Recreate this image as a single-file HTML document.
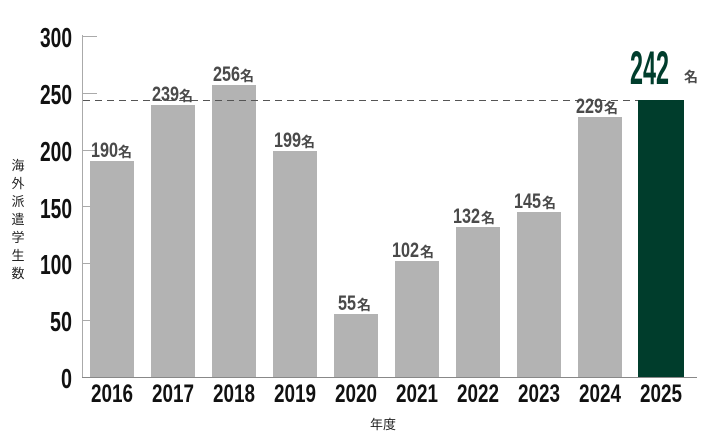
<!DOCTYPE html>
<html><head><meta charset="utf-8"><style>
html,body{margin:0;padding:0;background:#fff;}
svg{display:block;}
.t{font-family:"Liberation Sans","Noto Sans CJK JP",sans-serif;font-weight:bold;}
</style></head><body>
<svg width="710" height="439" viewBox="0 0 710 439" xmlns="http://www.w3.org/2000/svg">
<g stroke="#aaa" stroke-width="1">
<line x1="82.5" y1="35" x2="82.5" y2="378"/>
<line x1="82" y1="36.5" x2="97" y2="36.5"/>
<line x1="82" y1="93.5" x2="97" y2="93.5"/>
<line x1="82" y1="150.5" x2="97" y2="150.5"/>
<line x1="82" y1="206.5" x2="97" y2="206.5"/>
<line x1="82" y1="263.5" x2="97" y2="263.5"/>
<line x1="82" y1="320.5" x2="97" y2="320.5"/>
</g>
<g fill="#b3b3b3">
<rect x="90" y="161" width="44" height="216"/>
<rect x="151" y="105" width="44" height="272"/>
<rect x="212" y="85" width="44" height="292"/>
<rect x="273" y="151" width="44" height="226"/>
<rect x="334" y="314" width="44" height="63"/>
<rect x="395" y="261" width="44" height="116"/>
<rect x="456" y="227" width="44" height="150"/>
<rect x="517" y="212" width="44" height="165"/>
<rect x="578" y="117" width="44" height="260"/>
</g>
<rect x="638" y="100" width="46" height="277" fill="#003d2c"/>
<line x1="83" y1="100.5" x2="638" y2="100.5" stroke="#555" stroke-width="1" stroke-dasharray="7,5"/>
<line x1="82" y1="377.5" x2="697" y2="377.5" stroke="#888" stroke-width="1"/>
<g class="t" fill="#111" font-size="28" text-anchor="end">
<text x="72" y="47" textLength="32" lengthAdjust="spacingAndGlyphs">300</text>
<text x="72" y="104" textLength="32" lengthAdjust="spacingAndGlyphs">250</text>
<text x="72" y="161" textLength="32" lengthAdjust="spacingAndGlyphs">200</text>
<text x="72" y="218" textLength="32" lengthAdjust="spacingAndGlyphs">150</text>
<text x="72" y="274" textLength="32" lengthAdjust="spacingAndGlyphs">100</text>
<text x="72" y="331" textLength="22" lengthAdjust="spacingAndGlyphs">50</text>
<text x="72" y="388" textLength="11" lengthAdjust="spacingAndGlyphs">0</text>
</g>
<g class="t" fill="#111" font-size="25">
<text x="91" y="402" textLength="42" lengthAdjust="spacingAndGlyphs">2016</text>
<text x="152" y="402" textLength="42" lengthAdjust="spacingAndGlyphs">2017</text>
<text x="213" y="402" textLength="42" lengthAdjust="spacingAndGlyphs">2018</text>
<text x="274" y="402" textLength="42" lengthAdjust="spacingAndGlyphs">2019</text>
<text x="335" y="402" textLength="42" lengthAdjust="spacingAndGlyphs">2020</text>
<text x="396" y="402" textLength="42" lengthAdjust="spacingAndGlyphs">2021</text>
<text x="457" y="402" textLength="42" lengthAdjust="spacingAndGlyphs">2022</text>
<text x="518" y="402" textLength="42" lengthAdjust="spacingAndGlyphs">2023</text>
<text x="579" y="402" textLength="42" lengthAdjust="spacingAndGlyphs">2024</text>
<text x="640" y="402" textLength="42" lengthAdjust="spacingAndGlyphs">2025</text>
</g>
<g class="t" fill="#4a4a4a" font-size="21">
<text x="91" y="157" textLength="27" lengthAdjust="spacingAndGlyphs">190</text><text x="118" y="157" font-size="14">名</text>
<text x="152" y="101" textLength="27" lengthAdjust="spacingAndGlyphs">239</text><text x="179" y="101" font-size="14">名</text>
<text x="213" y="81" textLength="27" lengthAdjust="spacingAndGlyphs">256</text><text x="240" y="81" font-size="14">名</text>
<text x="274" y="147" textLength="27" lengthAdjust="spacingAndGlyphs">199</text><text x="301" y="147" font-size="14">名</text>
<text x="338" y="310" textLength="18" lengthAdjust="spacingAndGlyphs">55</text><text x="357" y="310" font-size="14">名</text>
<text x="392" y="257" textLength="27" lengthAdjust="spacingAndGlyphs">102</text><text x="420" y="257" font-size="14">名</text>
<text x="453" y="223" textLength="27" lengthAdjust="spacingAndGlyphs">132</text><text x="481" y="223" font-size="14">名</text>
<text x="514" y="208" textLength="27" lengthAdjust="spacingAndGlyphs">145</text><text x="542" y="208" font-size="14">名</text>
<text x="576" y="113" textLength="27" lengthAdjust="spacingAndGlyphs">229</text><text x="604" y="113" font-size="14">名</text>
</g>
<text class="t" x="630" y="84" font-size="47" fill="#003d2c" textLength="39" lengthAdjust="spacingAndGlyphs">242</text>
<text class="t" x="684" y="82" font-size="14" fill="#4a4a4a">名</text>
<g font-family="'Liberation Sans','Noto Sans CJK JP',sans-serif" font-size="13" fill="#222" text-anchor="middle">
<text x="18" y="170">海</text><text x="18" y="188">外</text><text x="18" y="206">派</text><text x="18" y="224">遣</text><text x="18" y="242">学</text><text x="18" y="260">生</text><text x="18" y="278">数</text>
<text x="383" y="429">年度</text>
</g>
</svg>
</body></html>
